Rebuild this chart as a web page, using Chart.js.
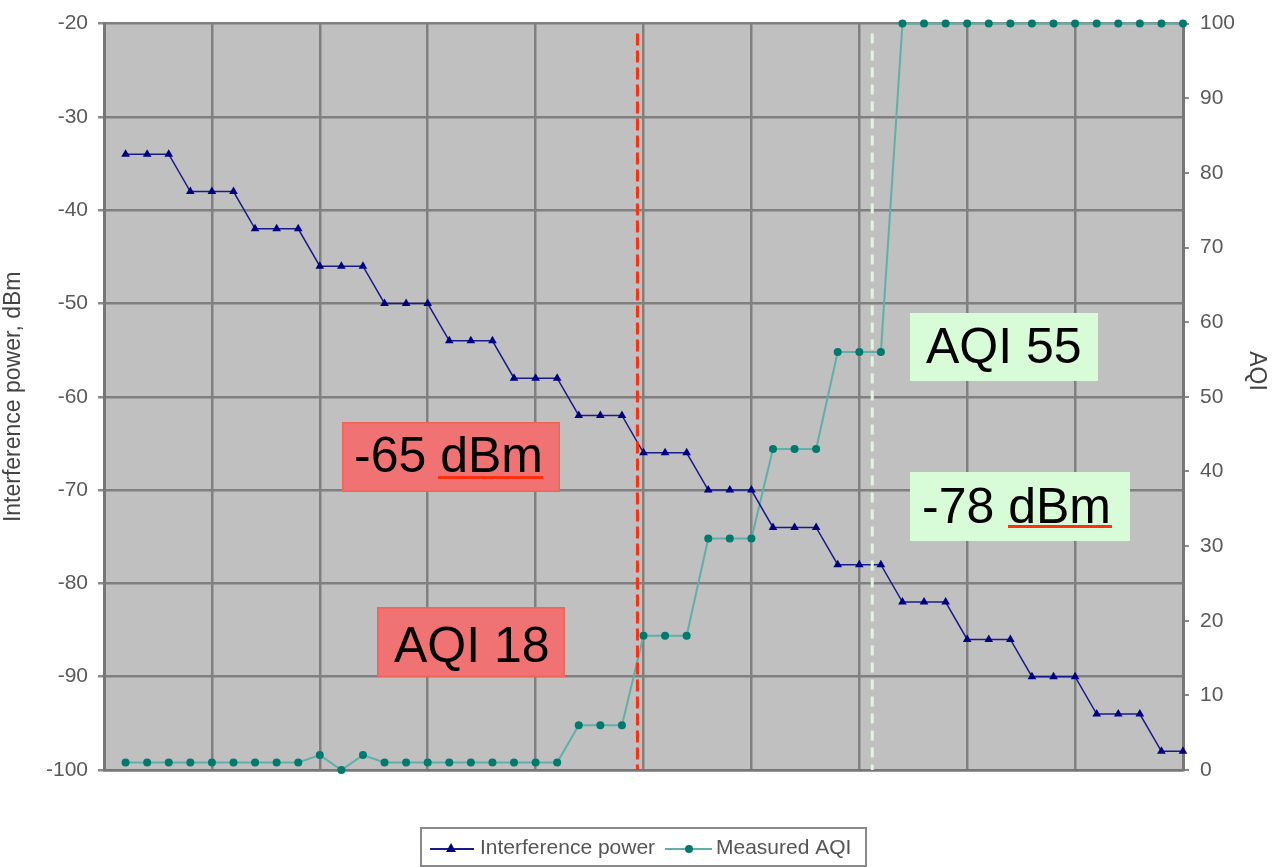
<!DOCTYPE html>
<html>
<head>
<meta charset="utf-8">
<script src="https://cdn.jsdelivr.net/npm/chart.js@4"></script>
<style>
  html, body { margin: 0; padding: 0; background: #fff; }
  #wrap { width: 1276px; height: 867px; }
</style>
</head>
<body>
<div id="wrap"><canvas id="chart" width="1276" height="867"></canvas></div>
<script>
// values, one per step on the x axis (1..50)
const interferencePower = [-34, -34, -34, -38, -38, -38, -42, -42, -42, -46, -46, -46,
  -50, -50, -50, -54, -54, -54, -58, -58, -58, -62, -62, -62, -66, -66, -66,
  -70, -70, -70, -74, -74, -74, -78, -78, -78, -82, -82, -82, -86, -86, -86,
  -90, -90, -90, -94, -94, -94, -98, -98];
const measuredAQI = [1, 1, 1, 1, 1, 1, 1, 1, 1, 2, 0, 2,
  1, 1, 1, 1, 1, 1, 1, 1, 1, 6, 6, 6, 18, 18, 18,
  31, 31, 31, 43, 43, 43, 56, 56, 56, 100, 100, 100, 100, 100, 100,
  100, 100, 100, 100, 100, 100, 100, 100];
const leftTicks = { min: -100, max: -20, step: 10 };
const rightTicks = { min: 0, max: 100, step: 10 };
const xRange = { min: 0, max: 50, step: 5 };

// threshold markers (x position on the step axis)
const redMarkerX = 24.72;
const whiteMarkerX = 35.6;

const FONT = '"Liberation Sans", Arial, sans-serif';
const gridColor = '#808080';

const toPoints = arr => arr.map((v, i) => ({ x: i + 1, y: v }));

// 1. Plot background
const plotBackground = {
  id: 'plotBackground',
  beforeDraw(chart) {
    const { ctx, chartArea: a } = chart;
    ctx.save();
    ctx.fillStyle = '#c0c0c0';
    ctx.fillRect(a.left, a.top, a.right - a.left, a.bottom - a.top);
    ctx.restore();
  }
};

// 2. Dashed markers, labels and legend
function drawBox(ctx, x, y, w, h, fill, stroke) {
  ctx.fillStyle = fill;
  ctx.fillRect(x, y, w, h);
  ctx.strokeStyle = stroke;
  ctx.lineWidth = 1.5;
  ctx.strokeRect(x + 0.75, y + 0.75, w - 1.5, h - 1.5);
}

const overlays = {
  id: 'overlays',
  afterDatasetsDraw(chart) {
    const { ctx, chartArea: a, scales } = chart;
    ctx.save();

    // vertical dashed lines
    const rx = scales.x.getPixelForValue(redMarkerX);
    ctx.setLineDash([12, 5]);
    ctx.strokeStyle = '#ff3010';
    ctx.lineWidth = 3;
    ctx.beginPath();
    ctx.moveTo(rx, a.top + 10);
    ctx.lineTo(rx, a.bottom);
    ctx.stroke();

    const wx = scales.x.getPixelForValue(whiteMarkerX);
    ctx.setLineDash([10, 7]);
    ctx.strokeStyle = '#dcf8dc';
    ctx.beginPath();
    ctx.moveTo(wx, a.top + 10);
    ctx.lineTo(wx, a.bottom);
    ctx.stroke();
    ctx.setLineDash([]);

    // text boxes
    ctx.font = '50px ' + FONT;
    ctx.textBaseline = 'alphabetic';
    ctx.textAlign = 'left';

    drawBox(ctx, 342, 422, 218, 70, '#f07272', '#f26456');
    ctx.fillStyle = '#000';
    ctx.fillText('-65 dBm', 354, 472);
    ctx.fillStyle = '#ff3010';
    ctx.fillRect(438, 476, 105, 3);

    drawBox(ctx, 377, 607, 188, 70, '#f07272', '#f26456');
    ctx.fillStyle = '#000';
    ctx.fillText('AQI 18', 394, 662);

    drawBox(ctx, 910, 313, 188, 68, '#d8fcd8', '#d8fcd8');
    ctx.fillStyle = '#000';
    ctx.fillText('AQI 55', 926, 363);

    drawBox(ctx, 910, 472, 220, 69, '#d8fcd8', '#d8fcd8');
    ctx.fillStyle = '#000';
    ctx.fillText('-78 dBm', 922, 523);
    ctx.fillStyle = '#ff3010';
    ctx.fillRect(1008, 525, 104, 3);

    ctx.restore();
  },
  afterDraw(chart) {
    const { ctx } = chart;
    const ds = chart.data.datasets;
    ctx.save();

    // right axis title
    ctx.save();
    ctx.translate(1256, 371);
    ctx.rotate(Math.PI / 2);
    ctx.font = '23px ' + FONT;
    ctx.fillStyle = '#444';
    ctx.textAlign = 'center';
    ctx.textBaseline = 'middle';
    ctx.fillText('AQI', 0, 0);
    ctx.restore();

    // legend frame
    ctx.strokeStyle = '#8a8a8a';
    ctx.lineWidth = 2;
    ctx.strokeRect(421, 828, 445, 38);
    ctx.font = '21px ' + FONT;
    ctx.textBaseline = 'middle';
    ctx.fillStyle = '#555';

    // item 1
    ctx.strokeStyle = ds[0].borderColor;
    ctx.lineWidth = 2;
    ctx.beginPath(); ctx.moveTo(430, 849); ctx.lineTo(474, 849); ctx.stroke();
    ctx.fillStyle = ds[0].pointBackgroundColor;
    ctx.beginPath(); ctx.moveTo(451, 843); ctx.lineTo(456, 852); ctx.lineTo(446, 852); ctx.closePath(); ctx.fill();
    ctx.fillStyle = '#555';
    ctx.fillText('Interference power', 480, 848);

    // item 2
    ctx.strokeStyle = ds[1].borderColor;
    ctx.beginPath(); ctx.moveTo(665, 849); ctx.lineTo(712, 849); ctx.stroke();
    ctx.fillStyle = ds[1].pointBackgroundColor;
    ctx.beginPath(); ctx.arc(689, 849, 4, 0, Math.PI * 2); ctx.fill();
    ctx.fillStyle = '#555';
    ctx.fillText('Measured AQI', 716, 848);
    ctx.restore();
  }
};

const ctx = document.getElementById('chart').getContext('2d');
new Chart(ctx, {
  type: 'line',
  data: {
    datasets: [
      {
        label: 'Interference power',
        data: toPoints(interferencePower),
        yAxisID: 'y',
        borderColor: '#1a1a8c',
        borderWidth: 1.5,
        pointStyle: 'triangle',
        pointRadius: 5,
        pointBackgroundColor: '#000080',
        pointBorderColor: '#000080',
        pointBorderWidth: 0,
        tension: 0
      },
      {
        label: 'Measured AQI',
        data: toPoints(measuredAQI),
        yAxisID: 'y2',
        borderColor: '#5fb0a8',
        borderWidth: 2,
        pointStyle: 'circle',
        pointRadius: 4,
        pointBackgroundColor: '#007a6c',
        pointBorderColor: '#007a6c',
        pointBorderWidth: 0,
        tension: 0
      }
    ]
  },
  options: {
    responsive: false,
    animation: false,
    clip: false,
    layout: { padding: { left: 0, right: 0, top: 16, bottom: 97 } },
    plugins: {
      legend: { display: false },
      tooltip: { enabled: false }
    },
    scales: {
      x: {
        type: 'linear',
        min: xRange.min,
        max: xRange.max,
        ticks: { stepSize: xRange.step, display: false },
        grid: { color: gridColor, lineWidth: 2.5, drawTicks: false },
        border: { display: true, color: '#777', width: 2.5 },
        afterFit: s => { s.height = 0; }
      },
      y: {
        position: 'left',
        min: leftTicks.min,
        max: leftTicks.max,
        ticks: {
          stepSize: leftTicks.step,
          color: '#5a5a5a',
          font: { family: FONT, size: 21 },
          padding: 10
        },
        grid: { color: gridColor, lineWidth: 2.5, tickLength: 6, tickColor: '#8a8a8a' },
        border: { display: true, color: '#777', width: 3 },
        title: {
          display: true,
          text: 'Interference power, dBm',
          color: '#444',
          font: { family: FONT, size: 23 },
          padding: { top: 0, bottom: 0 }
        },
        afterFit: s => { s.width = 104; }
      },
      y2: {
        position: 'right',
        min: rightTicks.min,
        max: rightTicks.max,
        ticks: {
          stepSize: rightTicks.step,
          color: '#5a5a5a',
          font: { family: FONT, size: 21 },
          padding: 11
        },
        grid: { drawOnChartArea: false, tickLength: 6, color: '#8a8a8a', lineWidth: 2 },
        border: { display: true, color: '#777', width: 3 },
        afterFit: s => { s.width = 93; }
      }
    }
  },
  plugins: [plotBackground, overlays]
});
</script>
</body>
</html>
